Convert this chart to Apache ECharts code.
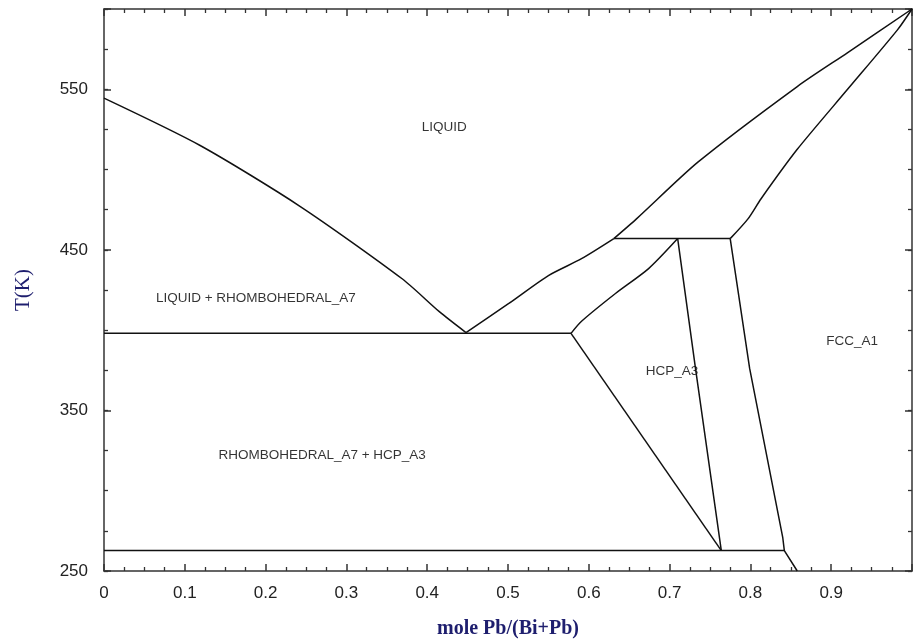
<!DOCTYPE html>
<html>
<head>
<meta charset="utf-8">
<script src="https://cdn.jsdelivr.net/npm/echarts@6/dist/echarts.min.js"></script>
<style>
html,body{margin:0;padding:0;background:#fff;}
#chart{width:915px;height:644px;}
</style>
</head>
<body>
<div id="chart"></div>
<script>
// ---- data (x = mole fraction Pb, T in K) ----
const liquidusBi   = [[0,544.5],[0.119,515],[0.243,477],[0.369,432],[0.415,411.5],[0.448,398.5]];
const liquidusMid  = [[0.448,398.5],[0.501,416.6],[0.550,434],[0.591,444.5],[0.631,457]];
const liquidusPb   = [[0.631,457],[0.659,469.3],[0.735,504.6],[0.858,551.7],[0.920,572.7],[1.0,600]];
const solidusFcc   = [[0.775,457],[0.797,469.3],[0.813,481.7],[0.858,512.6],[0.920,549.8],[0.982,587],[1.0,600]];
const peritectic   = [[0.631,457],[0.775,457]];
const solidusHcp   = [[0.578,398],[0.591,405.5],[0.633,422.8],[0.674,438.3],[0.710,457]];
const solvusHcpFcc = [[0.710,457],[0.732,376.3],[0.764,262.7]];
const solvusFcc    = [[0.775,457],[0.799,376.3],[0.840,271],[0.842,262.7],[0.858,250]];
const eutectic     = [[0,398],[0.578,398]];
const solvusRhHcp  = [[0.578,398],[0.764,262.7]];
const lowLine      = [[0,262.7],[0.842,262.7]];

const xTickLabels = ['0','0.1','0.2','0.3','0.4','0.5','0.6','0.7','0.8','0.9'];
const yTickLabels = ['250','350','450','550'];

const regionNames = ['LIQUID','LIQUID + RHOMBOHEDRAL_A7','RHOMBOHEDRAL_A7 + HCP_A3','HCP_A3','FCC_A1'];
const regionX     = [0.421, 0.188, 0.270, 0.703, 0.926];
const regionT     = [526.3, 419.7, 321.8, 374.5, 393];

const curved   = [liquidusBi, liquidusMid, liquidusPb, solidusFcc, solidusHcp];
const straight = [peritectic, solvusHcpFcc, solvusFcc, eutectic, solvusRhHcp, lowLine];

const chart = echarts.init(document.getElementById('chart'), null, {renderer:'canvas'});
const axisLineStyle = {color:'#333', width:1.5};
const fmtX = v => { const s = (Math.round(v*10)/10).toString(); return xTickLabels.indexOf(s) >= 0 ? s : ''; };
const fmtY = v => { const s = String(Math.round(v)); return yTickLabels.indexOf(s) >= 0 ? s : ''; };
const lineSeries = (d, sm) => ({
  type:'line', data:d, showSymbol:false, symbol:'none',
  smooth:sm,
  xAxisIndex:0, yAxisIndex:0,
  lineStyle:{color:'#111', width:1.5}, silent:true
});

const option = {
  animation:false,
  backgroundColor:'#fff',
  grid:{left:104, right:1, top:9, bottom:70, containLabel:false},
  xAxis:[
    {type:'value', min:0, max:1, interval:0.1, position:'bottom',
     axisLine:{lineStyle:axisLineStyle}, splitLine:{show:false},
     axisTick:{inside:true, length:7, lineStyle:{color:'#333', width:1.5}},
     minorTick:{show:true, splitNumber:4, length:4, lineStyle:{color:'#333', width:1.3}},
     axisLabel:{formatter:fmtX, color:'#222', fontSize:17, fontFamily:'Liberation Sans, Arial', margin:14},
     name:'mole Pb/(Bi+Pb)', nameLocation:'middle', nameGap:48,
     nameTextStyle:{color:'#1e1e6e', fontSize:20, fontWeight:'bold', fontFamily:'Liberation Serif, Times New Roman, serif'}},
    {type:'value', min:0, max:1, interval:0.1, position:'top',
     axisLine:{lineStyle:axisLineStyle}, splitLine:{show:false},
     axisTick:{inside:true, length:7, lineStyle:{color:'#333', width:1.5}},
     minorTick:{show:true, splitNumber:4, length:4, lineStyle:{color:'#333', width:1.3}},
     axisLabel:{show:false}}
  ],
  yAxis:[
    {type:'value', min:250, max:600, interval:100, position:'left',
     axisLine:{lineStyle:axisLineStyle}, splitLine:{show:false},
     axisTick:{inside:true, length:7, lineStyle:{color:'#333', width:1.5}},
     axisLabel:{formatter:fmtY, color:'#222', fontSize:17, fontFamily:'Liberation Sans, Arial', margin:16},
     name:'T(K)', nameLocation:'middle', nameGap:70, nameRotate:90,
     nameTextStyle:{color:'#1e1e6e', fontSize:21, fontFamily:'Liberation Serif, Times New Roman, serif'}},
    {type:'value', min:250, max:600, interval:25, position:'left',
     axisLine:{show:false}, splitLine:{show:false},
     axisTick:{inside:true, length:4, lineStyle:{color:'#333', width:1.3}},
     axisLabel:{show:false}},
    {type:'value', min:250, max:600, interval:100, position:'right',
     axisLine:{lineStyle:axisLineStyle}, splitLine:{show:false},
     axisTick:{inside:true, length:7, lineStyle:{color:'#333', width:1.5}},
     axisLabel:{show:false}},
    {type:'value', min:250, max:600, interval:25, position:'right',
     axisLine:{show:false}, splitLine:{show:false},
     axisTick:{inside:true, length:4, lineStyle:{color:'#333', width:1.3}},
     axisLabel:{show:false}}
  ],
  series: curved.map(d => lineSeries(d, 0.25))
    .concat(straight.map(d => lineSeries(d, false)))
    .concat([{
      type:'scatter', xAxisIndex:0, yAxisIndex:0, symbolSize:0, silent:true,
      data: regionNames.map((n,i) => ({value:[regionX[i], regionT[i]], name:n})),
      label:{show:true, position:'inside', formatter:p => p.name,
             color:'#000', fontSize:13.5, fontFamily:'Liberation Sans, Arial'}
    }])
};
chart.setOption(option);
</script>
</body>
</html>
